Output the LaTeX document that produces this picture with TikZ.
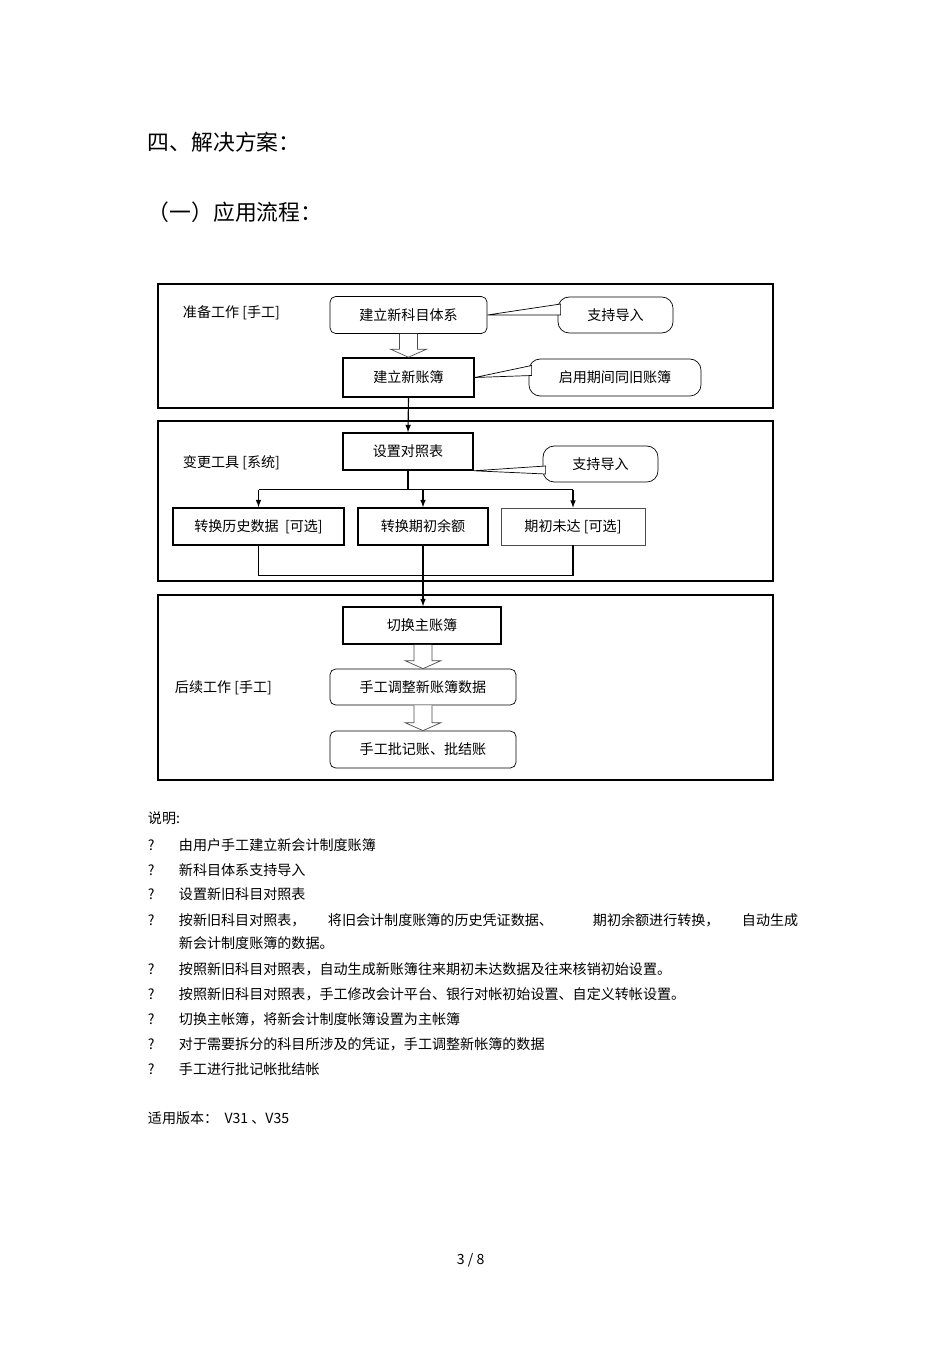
\documentclass[tikz,border=0pt]{standalone}
\usepackage{fontspec}
\setmainfont{Noto Sans CJK SC}
\usetikzlibrary{calc,arrows}

\tikzset{
  stage/.style={draw, line width=0.9pt},
  task/.style={draw, line width=0.5pt, minimum height=0.925cm, inner sep=0pt, font=\fontsize{10}{12}\selectfont},
  taskthick/.style={task, line width=1.1pt},
  rtask/.style={task, rounded corners=4pt},
  callout/.style={task, rounded corners=8pt, minimum height=0.9cm},
  pointer/.style={draw, fill=white, line width=0.5pt},
  hollow/.style={draw=black!70, fill=white, line width=0.5pt},
  flow/.style={->, >=latex, line width=0.8pt},
  stagename/.style={anchor=west, font=\fontsize{10}{12}\selectfont},
  note/.style={anchor=west, font=\fontsize{10}{12}\selectfont}
}
\newcommand{\hollowdown}[2]{%
  \draw[hollow] ($(#1.south -| #2.north)+(-9,0)$) -- ($(#2.north)+(-9,-8)$)
    -- ($(#2.north)+(-18,-8)$) -- (#2.north) -- ($(#2.north)+(18,-8)$)
    -- ($(#2.north)+(9,-8)$) -- ($(#1.south -| #2.north)+(9,0)$);}

\begin{document}
\begin{tikzpicture}[x=0.025cm, y=-0.025cm]
      \useasboundingbox (0,0) rectangle (950,1345);
      % headings
      \node[anchor=west, font=\fontsize{15.5}{18}\selectfont] (title) at (143,142) {四、解决方案：};
      \node[anchor=west, font=\fontsize{15.5}{18}\selectfont] (sub) at (143,212) {（一）应用流程：};
      % stage frames
      \draw[stage] (158,284) rectangle (773,408);
      \draw[stage] (158,421) rectangle (773,581);
      \draw[stage] (158,595) rectangle (773,780);
      \node[stagename] (prep) at (178,313) {准备工作 [手工]};
      \node[stagename] (tool) at (178,463) {变更工具 [系统]};
      \node[stagename] (post) at (170,688) {后续工作 [手工]};
      % tasks
      \node[rtask, minimum width=3.925cm] (subj) at (408.5,315) {建立新科目体系};
      \node[taskthick, minimum width=3.275cm, minimum height=0.975cm] (book) at (408.5,377.5) {建立新账簿};
      \node[taskthick, minimum width=3.25cm] (map) at (408,451.5) {设置对照表};
      \node[taskthick, minimum width=4.275cm] (hist) at (258.5,526.5) {转换历史数据\ \ [可选]};
      \node[taskthick, minimum width=3.25cm] (bal) at (423,526.5) {转换期初余额};
      \node[task, draw=black!70, minimum width=3.6cm] (open) at (573,526.5) {期初未达 [可选]};
      \node[taskthick, minimum width=3.95cm] (main) at (422,625.5) {切换主账簿};
      \node[rtask, minimum width=4.65cm, minimum height=0.9cm] (adj) at (423,687) {手工调整新账簿数据};
      \node[rtask, minimum width=4.65cm] (post2) at (423,749.5) {手工批记账、批结账};
      % callouts
      \node[callout, minimum width=2.875cm] (imp1) at (615.5,315) {支持导入};
      \node[callout, minimum width=4.3cm, minimum height=0.925cm] (period) at (615,377.5) {启用期间同旧账簿};
      \node[callout, minimum width=2.875cm] (imp2) at (600.5,464) {支持导入};
      \draw[pointer] (subj.east) -- ($(imp1.west)+(3,-11)$) -- ($(imp1.west)+(3,0)$) -- cycle;
      \draw[pointer] (book.east) -- ($(period.west)+(3,-12)$) -- ($(period.west)+(3,-2)$) -- cycle;
      \draw[pointer] (map.south east) -- ($(imp2.west)+(3,2)$) -- ($(imp2.west)+(3,10)$) -- cycle;
      % connectors
      \hollowdown{subj}{book}
      \hollowdown{main}{adj}
      \hollowdown{adj}{post2}
      \draw[flow] (book.south) -- (map.north);
      \coordinate (split) at ($(map.south)+(0,19)$);
      \draw[line width=0.8pt] (map.south) -- (split);
      \draw[line width=0.8pt] (split -| hist.north) -- (split -| open.north);
      \draw[flow] (split -| hist.north) -- (hist.north);
      \draw[flow] (split -| bal.north) -- (bal.north);
      \draw[flow] (split -| open.north) -- (open.north);
      \coordinate (join) at ($(hist.south)+(0,30)$);
      \draw[line width=0.8pt] (hist.south) -- (join) -- (join -| open.south) -- (open.south);
      \draw[flow] (bal.south) -- (bal.south |- main.north);
      % notes
      \node[note] (say) at (143,818) {说明:};
      \foreach \y/\t in {845/由用户手工建立新会计制度账簿, 870/新科目体系支持导入, 894/设置新旧科目对照表,
                         969/按照新旧科目对照表，自动生成新账簿往来期初未达数据及往来核销初始设置。,
                         994/按照新旧科目对照表，手工修改会计平台、银行对帐初始设置、自定义转帐设置。,
                         1019/切换主帐簿，将新会计制度帐簿设置为主帐簿,
                         1044/对于需要拆分的科目所涉及的凭证，手工调整新帐簿的数据,
                         1069/手工进行批记帐批结帐}{
        \node[note] at (143,\y) {?};
        \node[note] at (174,\y) {\t};
      }
      \node[note] at (143,920) {?};
      \node[note] (l4a) at (174,920) {按新旧科目对照表，};
      \node[note] (l4b) at (323,920) {将旧会计制度账簿的历史凭证数据、};
      \node[note] (l4c) at (588,920) {期初余额进行转换，};
      \node[note] (l4d) at (737,920) {自动生成};
      \node[note] (l4e) at (174,943) {新会计制度账簿的数据。};
      \node[note] (ver) at (143,1118) {适用版本：\ \ V31 、V35};
      \node[note] (page) at (452,1260) {3 / 8};
    \end{tikzpicture}
\end{document}
